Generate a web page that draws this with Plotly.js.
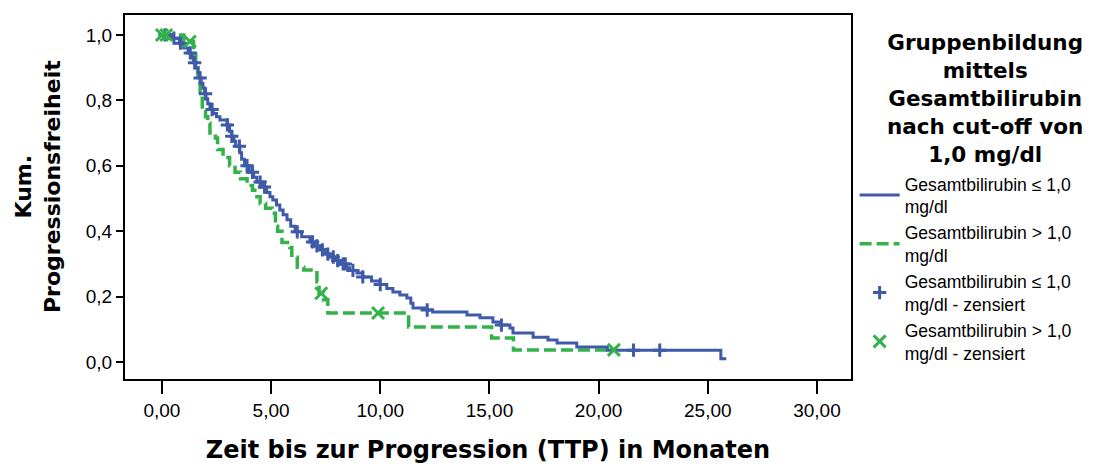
<!DOCTYPE html>
<html>
<head>
<meta charset="utf-8">
<script src="https://cdn.plot.ly/plotly-3.0.1.min.js"></script>
<style>
  html, body { margin: 0; padding: 0; background: #ffffff; }
  #chart { width: 1114px; height: 467px; }
</style>
</head>
<body>
<div id="chart"></div>
<script>
// Kaplan-Meier: time to progression (months) by total bilirubin group

// Group ≤ 1,0 mg/dl: event times and survival after each step
const lowTime = [0, 0.5, 0.8, 1.0, 1.2, 1.35, 1.45, 1.55, 1.65, 1.72, 1.8, 1.88, 1.95, 2.02, 2.1, 2.2,
  2.35, 2.5, 2.66, 2.98, 3.1, 3.2, 3.3, 3.38, 3.57, 3.65, 3.78, 4.0, 4.2, 4.35, 4.6, 4.8, 4.95,
  5.08, 5.25, 5.4, 5.55, 5.73, 5.9, 6.1, 6.4, 6.78, 7.0, 7.24, 7.5, 7.7, 7.95, 8.15, 8.45, 8.6,
  8.93, 9.2, 9.6, 9.99, 10.3, 10.58, 10.9, 11.22, 11.4, 11.5, 12.14, 12.4, 13.97, 14.57, 15.16,
  15.5, 15.94, 16.08, 17.0, 17.68, 18.1, 19.0, 20.4, 25.6];
const lowSurv = [1.0, 0.99, 0.975, 0.96, 0.945, 0.93, 0.915, 0.9, 0.885, 0.868, 0.852, 0.838, 0.82, 0.805, 0.79, 0.772,
  0.76, 0.75, 0.74, 0.725, 0.705, 0.69, 0.675, 0.66, 0.64, 0.62, 0.6, 0.58, 0.565, 0.55, 0.535, 0.518, 0.505,
  0.495, 0.48, 0.465, 0.45, 0.435, 0.415, 0.398, 0.383, 0.367, 0.355, 0.343, 0.33, 0.321, 0.31, 0.3, 0.288, 0.28,
  0.272, 0.26, 0.248, 0.237, 0.225, 0.214, 0.205, 0.196, 0.18, 0.165, 0.159, 0.153, 0.144, 0.135, 0.122,
  0.113, 0.104, 0.089, 0.076, 0.067, 0.058, 0.046, 0.036, 0.01];
const lowFollowUpEnd = 25.85;
const lowCensored = [0.14, 0.55, 0.85, 1.3, 1.5, 1.75, 2.0, 2.3, 3.0, 3.2, 3.55, 3.9, 4.15, 4.5, 4.7,
  6.2, 6.9, 7.1, 7.35, 7.6, 7.85, 8.05, 8.3, 8.4, 8.75, 9.2, 10.0, 12.15, 15.55, 21.6, 22.8];

// Group > 1,0 mg/dl
const highTime = [0, 1.0, 1.45, 1.55, 1.65, 1.75, 1.85, 2.0, 2.1, 2.2, 2.45, 2.55, 2.8, 3.1, 3.35, 3.6,
  3.9, 4.15, 4.35, 4.5, 4.75, 5.05, 5.2, 5.3, 5.5, 5.85, 5.95, 6.2, 6.5, 7.1, 7.2, 7.4, 7.6,
  11.3, 15.1, 16.1];
const highSurv = [1.0, 0.98, 0.94, 0.9, 0.86, 0.82, 0.78, 0.75, 0.73, 0.7, 0.685, 0.65, 0.625, 0.6, 0.58, 0.56,
  0.54, 0.525, 0.505, 0.485, 0.47, 0.455, 0.415, 0.4, 0.365, 0.35, 0.32, 0.29, 0.281, 0.245, 0.21, 0.19, 0.15,
  0.107, 0.073, 0.037];
const highFollowUpEnd = 20.7;
const highCensored = [0.0, 0.2, 1.28, 7.3, 9.9, 20.7];

const seriesNames = [
  'Gesamtbilirubin ≤ 1,0<br>mg/dl',
  'Gesamtbilirubin > 1,0<br>mg/dl',
  'Gesamtbilirubin ≤ 1,0<br>mg/dl - zensiert',
  'Gesamtbilirubin > 1,0<br>mg/dl - zensiert'
];
const legendTitle = 'Gruppenbildung<br>mittels<br>Gesamtbilirubin<br>nach cut-off von<br>1,0 mg/dl';
const xTitle = 'Zeit bis zur Progression (TTP) in Monaten';
const yTitle = 'Kum.<br>Progressionsfreiheit';

const BLUE = '#3e5aa9';
const GREEN = '#33b24b';

// survival value in effect at time t (right-continuous step function)
function survivalAt(t, times, surv) {
  let s = surv[0];
  for (let i = 0; i < times.length; i++) {
    if (times[i] <= t) s = surv[i]; else break;
  }
  return s;
}

function curve(times, surv, endTime) {
  return {
    x: times.concat([endTime]),
    y: surv.concat([surv[surv.length - 1]])
  };
}

const lowCurve = curve(lowTime, lowSurv, lowFollowUpEnd);
const highCurve = curve(highTime, highSurv, highFollowUpEnd);

const traces = [
  {
    x: highCurve.x, y: highCurve.y, name: seriesNames[1], legendrank: 2,
    type: 'scatter', mode: 'lines',
    line: { shape: 'hv', color: GREEN, width: 3.5, dash: '12px,5px' }
  },
  {
    x: lowCurve.x, y: lowCurve.y, name: seriesNames[0], legendrank: 1,
    type: 'scatter', mode: 'lines',
    line: { shape: 'hv', color: BLUE, width: 3 }
  },
  {
    x: lowCensored, y: lowCensored.map(t => survivalAt(t, lowTime, lowSurv)),
    name: seriesNames[2], legendrank: 3,
    type: 'scatter', mode: 'markers',
    marker: { symbol: 'cross-thin', size: 9.5, color: BLUE, line: { color: BLUE, width: 3 } }
  },
  {
    x: highCensored, y: highCensored.map(t => survivalAt(t, highTime, highSurv)),
    name: seriesNames[3], legendrank: 4,
    type: 'scatter', mode: 'markers',
    marker: { symbol: 'x-thin', size: 12, color: GREEN, line: { color: GREEN, width: 3 } }
  }
];

const regular = { family: 'Liberation Sans, Arial, sans-serif', size: 18, color: '#000000' };
const legendFont = Object.assign({}, regular, { size: 17.6 });
const tickFont = Object.assign({}, regular, { size: 19 });
const bold = { family: 'DejaVu Sans, sans-serif', size: 22, color: '#000000', weight: 'bold' };
const yRange = [-0.052, 1.061];

const layout = {
  width: 1114,
  height: 467,
  margin: { l: 125, r: 263, t: 15, b: 88 },
  paper_bgcolor: '#ffffff',
  plot_bgcolor: '#ffffff',
  separators: ',.',
  font: regular,
  showlegend: true,
  xaxis: {
    range: [-1.69, 31.56],
    tick0: 0, dtick: 5, tickformat: '.2f',
    ticks: 'outside', ticklen: 13, tickwidth: 2, tickcolor: '#000000',
    showline: true, mirror: true, linewidth: 2, linecolor: '#000000',
    showgrid: false, zeroline: false,
    tickfont: tickFont,
    title: { text: xTitle, font: Object.assign({}, bold, { size: 24 }), standoff: 21 }
  },
  // labelled axis: short ticks so the numbers sit right against the tick marks
  yaxis: {
    range: yRange,
    tick0: 0, dtick: 0.2, tickformat: '.1f',
    ticks: 'outside', ticklen: 7, tickwidth: 2, tickcolor: '#000000',
    showline: true, mirror: true, linewidth: 2, linecolor: '#000000',
    showgrid: false, zeroline: false,
    tickfont: tickFont
  },
  // companion axis drawing the full-length tick marks
  yaxis2: {
    overlaying: 'y', side: 'left',
    range: yRange,
    tick0: 0, dtick: 0.2,
    ticks: 'outside', ticklen: 13, tickwidth: 2, tickcolor: '#000000',
    showticklabels: false, showline: false,
    showgrid: false, zeroline: false
  },
  annotations: [
    {
      // y-axis title, two centred lines
      text: yTitle, textangle: -90,
      xref: 'paper', yref: 'paper', x: -0.1198, y: 0.5275,
      xanchor: 'center', yanchor: 'middle', align: 'center',
      showarrow: false, font: bold
    },
    {
      // legend heading, each line centred
      text: legendTitle,
      xref: 'paper', yref: 'paper', x: 1.1846, y: 0.7706,
      xanchor: 'center', yanchor: 'middle', align: 'center',
      showarrow: false, font: Object.assign({}, bold, { size: 21.5 })
    }
  ],
  legend: {
    x: 1.005, xanchor: 'left',
    y: 0.586, yanchor: 'top',
    bgcolor: 'rgba(0,0,0,0)',
    borderwidth: 0,
    font: legendFont,
    itemwidth: 40,
    tracegroupgap: 0
  }
};

Plotly.newPlot('chart', traces, layout, { displayModeBar: false, staticPlot: true });
</script>
</body>
</html>
